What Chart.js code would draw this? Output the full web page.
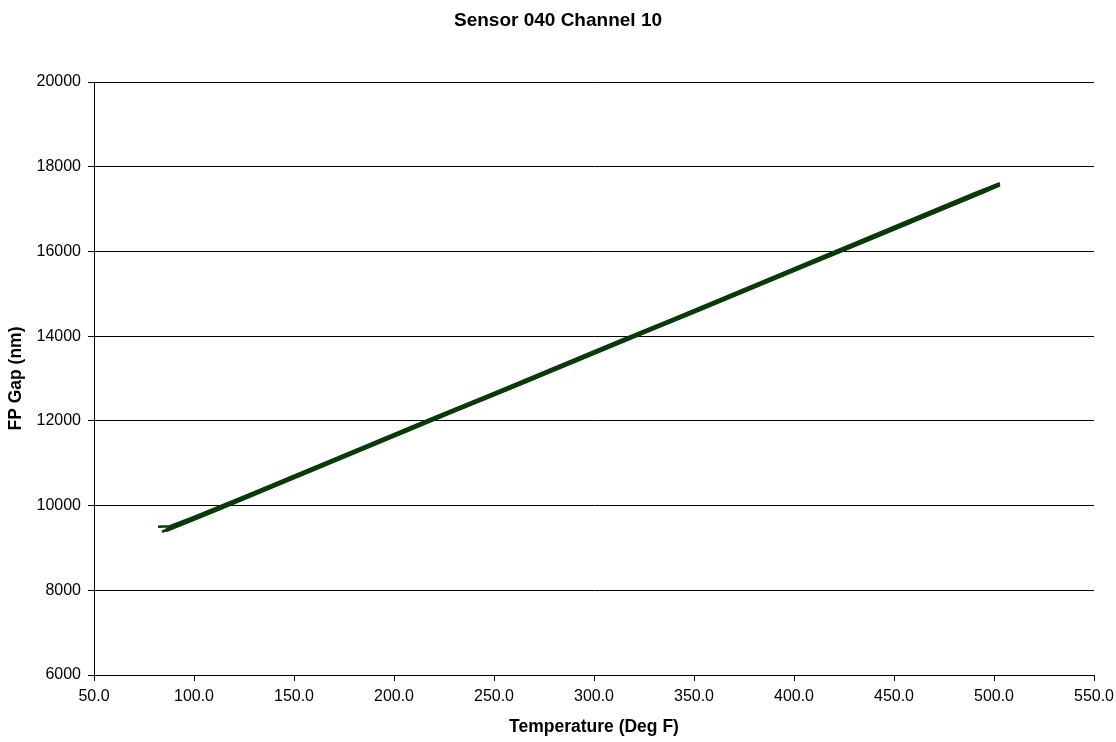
<!DOCTYPE html>
<html>
<head>
<meta charset="utf-8">
<script src="https://cdn.jsdelivr.net/npm/chart.js@4"></script>
<style>
    html, body { margin: 0; padding: 0; background: #fff; }
    #wrap { width: 1116px; height: 742px; }
</style>
</head>
<body>
<div id="wrap"><canvas id="chart" width="1116" height="742"></canvas></div>
<script>
// Data (temperature in Deg F, gap in nm)
const heat1Temp = [84, 100, 125, 150, 175, 200, 225, 250, 275, 300, 325, 350, 375, 400, 425, 450, 475, 500, 503];
const heat1Gap  = [9380, 9680, 10170, 10660, 11150, 11640, 12130, 12610, 13100, 13590, 14080, 14570, 15060, 15550, 16030, 16520, 17010, 17500, 17560];

const cool1Temp = [503, 490, 460, 430, 400, 370, 340, 310, 280, 250, 220, 190, 160, 130, 100, 88, 82];
const cool1Gap  = [17610, 17370, 16780, 16190, 15600, 15010, 14420, 13840, 13250, 12660, 12080, 11490, 10900, 10310, 9730, 9510, 9500];

const heat2Temp = [86, 110, 140, 170, 200, 230, 260, 290, 320, 350, 380, 410, 440, 470, 495, 502];
const heat2Gap  = [9400, 9860, 10450, 11040, 11630, 12220, 12800, 13390, 13980, 14560, 15150, 15740, 16320, 16910, 17400, 17560];

const cool2Temp = [502, 480, 455, 420, 385, 345, 315, 285, 255, 215, 185, 145, 115, 92, 86];
const cool2Gap  = [17590, 17140, 16650, 15970, 15280, 14500, 13920, 13330, 12750, 11970, 11380, 10600, 10010, 9560, 9440];

const yTicks = [6000, 8000, 10000, 12000, 14000, 16000, 18000, 20000];
const xTicks = [50, 100, 150, 200, 250, 300, 350, 400, 450, 500, 550];

const lineColor = '#0a3a0a';
const fontFamily = '"Liberation Sans", Arial, sans-serif';

function pairs(xs, ys) {
    return xs.map((x, i) => ({ x: x, y: ys[i] }));
}

function strand(xs, ys) {
    return {
        data: pairs(xs, ys),
        showLine: true,
        borderColor: lineColor,
        backgroundColor: lineColor,
        borderWidth: 2.6,
        pointRadius: 0,
        tension: 0
    };
}

// Title drawn at a fixed spot above the plot
const titlePlugin = {
    id: 'fixedTitle',
    afterDraw(chart) {
        const ctx = chart.ctx;
        ctx.save();
        ctx.fillStyle = '#000';
        ctx.font = 'bold 19px ' + fontFamily;
        ctx.textAlign = 'center';
        ctx.textBaseline = 'middle';
        ctx.fillText('Sensor 040 Channel 10', 558, 21);
        ctx.restore();
    }
};

const ctx = document.getElementById('chart').getContext('2d');
new Chart(ctx, {
    type: 'scatter',
    data: {
        datasets: [
            strand(heat1Temp, heat1Gap),
            strand(cool1Temp, cool1Gap),
            strand(heat2Temp, heat2Gap),
            strand(cool2Temp, cool2Gap)
        ]
    },
    options: {
        responsive: false,
        animation: false,
        devicePixelRatio: 1,
        layout: { padding: { top: 82, right: 22, left: 0, bottom: 0 } },
        plugins: {
            legend: { display: false },
            tooltip: { enabled: false }
        },
        scales: {
            x: {
                type: 'linear',
                min: 50,
                max: 550,
                afterBuildTicks: (scale) => { scale.ticks = xTicks.map(v => ({ value: v })); },
                afterFit: (scale) => {
                    scale.height = 67;
                    scale.paddingRight = 0;
                    scale.paddingLeft = 0;
                },
                ticks: {
                    color: '#000',
                    font: { family: fontFamily, size: 16 },
                    padding: 6,
                    maxRotation: 0,
                    callback: (v) => Number(v).toFixed(1)
                },
                grid: {
                    drawOnChartArea: false,
                    drawTicks: true,
                    tickLength: 6,
                    color: '#000'
                },
                border: { color: '#000', width: 1 },
                title: {
                    display: true,
                    text: 'Temperature (Deg F)',
                    color: '#000',
                    font: { family: fontFamily, size: 17.5, weight: 'bold' },
                    padding: { top: 0, bottom: 4 }
                }
            },
            y: {
                type: 'linear',
                min: 6000,
                max: 20000,
                afterBuildTicks: (scale) => { scale.ticks = yTicks.map(v => ({ value: v })); },
                afterFit: (scale) => { scale.width = 94; },
                ticks: {
                    color: '#000',
                    font: { family: fontFamily, size: 16 },
                    padding: 7,
                    callback: (v) => String(v)
                },
                grid: {
                    color: '#000',
                    lineWidth: 1,
                    tickLength: 6
                },
                border: { color: '#000', width: 1 },
                title: {
                    display: true,
                    text: 'FP Gap (nm)',
                    color: '#000',
                    font: { family: fontFamily, size: 17.5, weight: 'bold' },
                    padding: { top: 6, bottom: 0 }
                }
            }
        }
    },
    plugins: [titlePlugin]
});
</script>
</body>
</html>
